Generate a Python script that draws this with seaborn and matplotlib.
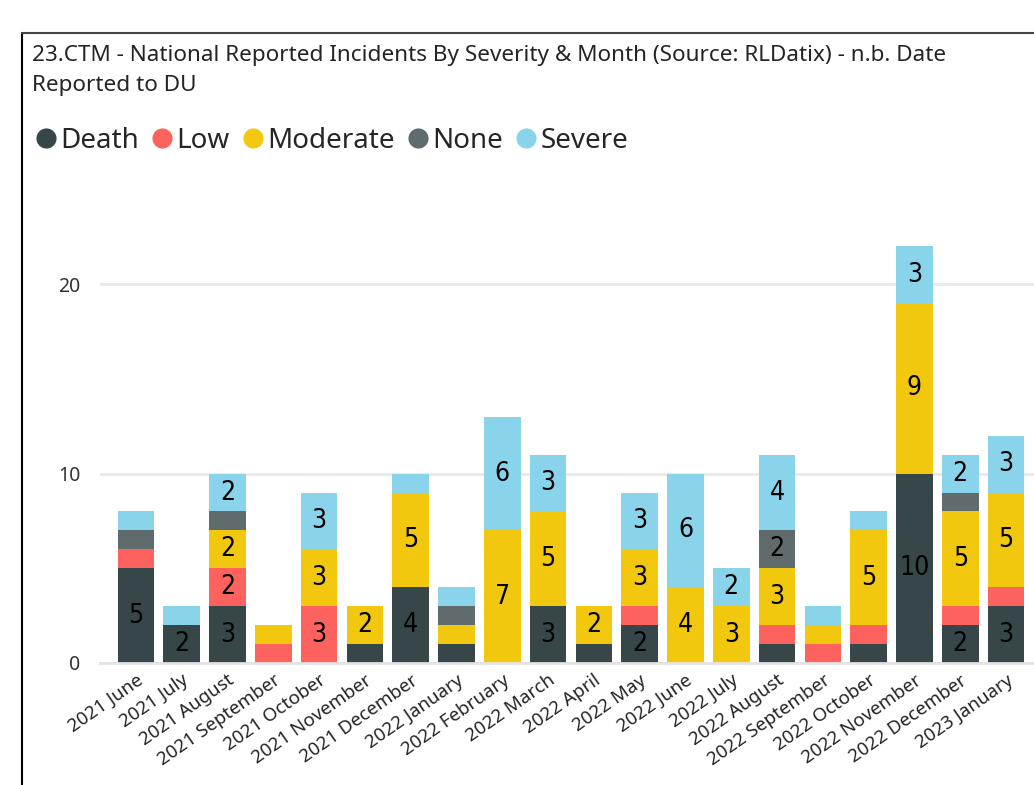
import numpy as np
import pandas as pd
import matplotlib
matplotlib.use("Agg")
import matplotlib.pyplot as plt
from matplotlib.lines import Line2D
import seaborn as sns

months = ["2021 June", "2021 July", "2021 August", "2021 September", "2021 October",
          "2021 November", "2021 December", "2022 January", "2022 February", "2022 March",
          "2022 April", "2022 May", "2022 June", "2022 July", "2022 August",
          "2022 September", "2022 October", "2022 November", "2022 December", "2023 January"]

death    = [5, 2, 3, 0, 0, 1, 4, 1, 0, 3, 1, 2, 0, 0, 1, 0, 1, 10, 2, 3]
low      = [1, 0, 2, 1, 3, 0, 0, 0, 0, 0, 0, 1, 0, 0, 1, 1, 1, 0, 1, 1]
moderate = [0, 0, 2, 1, 3, 2, 5, 1, 7, 5, 2, 3, 4, 3, 3, 1, 5, 9, 5, 5]
none     = [1, 0, 1, 0, 0, 0, 0, 1, 0, 0, 0, 0, 0, 0, 2, 0, 0, 0, 1, 0]
severe   = [1, 1, 2, 0, 3, 0, 1, 1, 6, 3, 0, 3, 6, 2, 4, 1, 1, 3, 2, 3]

severities = ["Death", "Low", "Moderate", "None", "Severe"]
colors = {"Death": "#374649", "Low": "#FD625E", "Moderate": "#F2C80F",
          "None": "#5F6B6D", "Severe": "#8AD4EB"}

df = pd.DataFrame({"Month": months, "Death": death, "Low": low,
                   "Moderate": moderate, "None": none, "Severe": severe})
cum = df[severities].cumsum(axis=1)
bottoms = cum - df[severities]

sns.set_style("white")
plt.rcParams["font.family"] = ["Noto Sans", "DejaVu Sans"]

fig = plt.figure(figsize=(10.34, 7.85), dpi=100)
W, H = 1034, 785
ax = fig.add_axes([100 / W, (H - 663) / H, 934 / W, (663 - 180) / H])

# stacked bars: draw cumulative tops from highest layer down
for sev in reversed(severities):
    sns.barplot(x=df["Month"], y=cum[sev], color=colors[sev], ax=ax,
                width=0.8, saturation=1, linewidth=0, order=months)

# data labels (Power BI hides the ones that don't fit)
for i in range(len(months)):
    for sev in severities:
        v = df.loc[i, sev]
        if v >= 2:
            ax.text(i, bottoms.loc[i, sev] + v / 2, str(v), ha="center", va="center",
                    fontsize=19, color="black", family="DejaVu Sans", stretch="condensed")

ax.set_xlim(-0.786, 19.61)
ax.set_ylim(0, 25.5)
ax.set_yticks([0, 10, 20])
ax.yaxis.grid(True, color="#e9e9e9", linewidth=2)
ax.set_axisbelow(True)
for s in ["top", "right", "left"]:
    ax.spines[s].set_visible(False)
ax.spines["bottom"].set_color("#e3e3e3")
ax.spines["bottom"].set_linewidth(2)
ax.tick_params(axis="y", length=0, pad=14, labelsize=14, labelcolor="#333333")
ax.tick_params(axis="x", length=0, pad=6, labelsize=13.5, labelcolor="#252423")
ax.set_xticks(range(len(months)))
ax.set_xticklabels(months, rotation=35, ha="right", rotation_mode="anchor")
ax.set_xlabel("")
ax.set_ylabel("")

# title
fig.text(32 / W, 1 - 55 / H, "23.CTM - National Reported Incidents By Severity & Month (Source: RLDatix) - n.b. Date",
         fontsize=16.2, color="#252423", va="center", ha="left")
fig.text(32 / W, 1 - 85 / H, "Reported to DU", fontsize=16.2, color="#252423", va="center", ha="left")

# legend
handles = [Line2D([0], [0], marker="o", linestyle="", markersize=14.5,
                  markerfacecolor=colors[s], markeredgewidth=0) for s in severities]
fig.legend(handles, severities, loc="center left", bbox_to_anchor=(35 / W, 1 - 141 / H),
           ncol=5, frameon=False, fontsize=20, handletextpad=0.1, columnspacing=0.45,
           handlelength=0.8, borderaxespad=0, borderpad=0)

# visual frame
fig.add_artist(Line2D([22 / W, 22 / W], [0, 1 - 33 / H], color="black", linewidth=1.5))
fig.add_artist(Line2D([22 / W, 1], [1 - 33 / H, 1 - 33 / H], color="#444444", linewidth=1.5))

fig.savefig("out.png", dpi=100)
